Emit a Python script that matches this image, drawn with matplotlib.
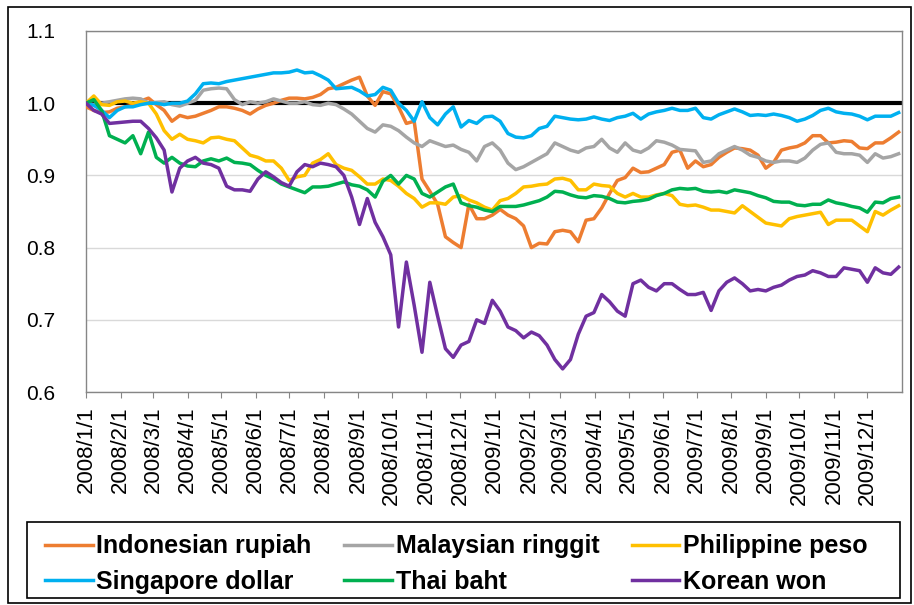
import pandas as pd
import matplotlib
matplotlib.use('Agg')
import matplotlib.pyplot as plt
from matplotlib.patches import Rectangle

plt.rcParams['font.family'] = ['Liberation Sans', 'DejaVu Sans']

# weekly observations, 2008/1/1 .. 2009/12/29 (index, 2008/1/1 = 1.0)
weeks = pd.date_range('2008-01-01', periods=105, freq='7D')

indonesian_rupiah = [
    0.995, 0.990, 0.987, 0.988, 0.993, 0.995, 0.997, 1.003, 1.007, 0.998,
    0.990, 0.975, 0.983, 0.980, 0.982, 0.986, 0.990, 0.995, 0.995, 0.993,
    0.990, 0.985, 0.992, 0.997, 1.000, 1.004, 1.007, 1.007, 1.006, 1.008,
    1.012, 1.020, 1.022, 1.027, 1.032, 1.036, 1.010, 0.997, 1.016, 1.013,
    0.995, 0.972, 0.975, 0.895, 0.878, 0.860, 0.815, 0.807, 0.800, 0.860,
    0.840, 0.840, 0.845, 0.853, 0.845, 0.840, 0.830, 0.800, 0.806, 0.805,
    0.822, 0.824, 0.822, 0.808, 0.838, 0.840, 0.855, 0.875, 0.893, 0.897,
    0.910, 0.904, 0.905, 0.910, 0.915, 0.932, 0.935, 0.910, 0.920, 0.912,
    0.915, 0.925, 0.932, 0.938, 0.937, 0.935, 0.928, 0.910, 0.918, 0.935,
    0.938, 0.940, 0.945, 0.955, 0.955, 0.945, 0.946, 0.948, 0.947, 0.938,
    0.937, 0.945, 0.945, 0.952, 0.960,
]
malaysian_ringgit = [
    1.000, 0.998, 1.000, 1.002, 1.004, 1.006, 1.007, 1.006, 1.000, 1.001,
    1.002, 0.998, 0.996, 1.000, 1.004, 1.018, 1.020, 1.021, 1.020, 1.005,
    0.998, 1.002, 1.000, 1.002, 1.006, 1.003, 1.000, 1.000, 1.002, 0.998,
    0.997, 1.000, 0.998, 0.992, 0.985, 0.975, 0.965, 0.960, 0.970, 0.968,
    0.962, 0.953, 0.945, 0.940, 0.948, 0.944, 0.940, 0.942, 0.936, 0.932,
    0.920, 0.940, 0.945, 0.935, 0.917, 0.908, 0.912, 0.918, 0.924, 0.930,
    0.945, 0.940, 0.935, 0.932, 0.938, 0.940, 0.950, 0.938, 0.932, 0.945,
    0.935, 0.932, 0.938, 0.948, 0.946, 0.942, 0.936, 0.935, 0.934, 0.918,
    0.920, 0.930, 0.935, 0.940, 0.935, 0.928, 0.925, 0.920, 0.918, 0.920,
    0.920, 0.918, 0.924, 0.935, 0.943, 0.945, 0.932, 0.930, 0.930, 0.928,
    0.918, 0.930, 0.924, 0.926, 0.930,
]
philippine_peso = [
    1.000, 1.010, 0.998, 0.997, 1.002, 1.003, 1.000, 1.002, 1.000, 0.985,
    0.962, 0.950, 0.957, 0.950, 0.948, 0.945, 0.952, 0.953, 0.950, 0.948,
    0.938, 0.928, 0.925, 0.920, 0.920, 0.910, 0.893, 0.898, 0.900, 0.917,
    0.922, 0.930, 0.915, 0.910, 0.907, 0.898, 0.888, 0.888, 0.895, 0.893,
    0.885, 0.875, 0.868, 0.856, 0.862, 0.862, 0.860, 0.870, 0.872, 0.866,
    0.862, 0.856, 0.852, 0.865, 0.868, 0.875, 0.884, 0.885, 0.887, 0.888,
    0.895, 0.896, 0.893, 0.880, 0.880, 0.888, 0.886, 0.885, 0.875, 0.870,
    0.875, 0.870, 0.870, 0.873, 0.875, 0.872, 0.860, 0.858, 0.859, 0.856,
    0.852, 0.852, 0.850, 0.848, 0.858, 0.850, 0.842, 0.834, 0.832, 0.830,
    0.840, 0.843, 0.845, 0.847, 0.849, 0.832, 0.838, 0.838, 0.838, 0.830,
    0.822, 0.850, 0.845, 0.852, 0.858,
]
singapore_dollar = [
    1.000, 0.997, 0.990, 0.980, 0.990, 0.995, 0.995, 0.998, 1.000, 1.000,
    0.998, 1.000, 1.000, 1.003, 1.013, 1.027, 1.028, 1.027, 1.030, 1.032,
    1.034, 1.036, 1.038, 1.040, 1.042, 1.042, 1.043, 1.046, 1.042, 1.043,
    1.038, 1.032, 1.020, 1.021, 1.022, 1.017, 1.010, 1.012, 1.022, 1.018,
    1.000, 0.990, 0.975, 1.002, 0.980, 0.970, 0.985, 0.995, 0.967, 0.976,
    0.972, 0.981, 0.982, 0.975, 0.958, 0.953, 0.952, 0.955, 0.965, 0.968,
    0.982, 0.980, 0.978, 0.977, 0.978, 0.981, 0.978, 0.976, 0.980, 0.982,
    0.986, 0.978, 0.985, 0.988, 0.990, 0.993, 0.990, 0.990, 0.993, 0.980,
    0.978, 0.984, 0.988, 0.992, 0.988, 0.983, 0.984, 0.983, 0.985, 0.983,
    0.980, 0.975, 0.978, 0.983, 0.990, 0.993, 0.988, 0.986, 0.985, 0.982,
    0.977, 0.982, 0.982, 0.982, 0.987,
]
thai_baht = [
    1.000, 1.005, 0.990, 0.955, 0.950, 0.945, 0.955, 0.930, 0.960, 0.925,
    0.917, 0.925, 0.917, 0.913, 0.912, 0.920, 0.923, 0.920, 0.924, 0.918,
    0.917, 0.915, 0.907, 0.900, 0.895, 0.888, 0.884, 0.880, 0.876, 0.884,
    0.884, 0.885, 0.888, 0.891, 0.887, 0.885, 0.880, 0.870, 0.892, 0.900,
    0.888, 0.900, 0.895, 0.875, 0.870, 0.877, 0.884, 0.888, 0.862, 0.858,
    0.856, 0.852, 0.850, 0.857, 0.857, 0.857, 0.859, 0.862, 0.865, 0.870,
    0.878, 0.877, 0.873, 0.870, 0.869, 0.872, 0.871, 0.868, 0.863, 0.862,
    0.864, 0.865, 0.867, 0.872, 0.875, 0.880, 0.882, 0.881, 0.882, 0.878,
    0.877, 0.878, 0.876, 0.880, 0.878, 0.876, 0.872, 0.869, 0.864, 0.863,
    0.863, 0.859, 0.858, 0.860, 0.860, 0.866, 0.862, 0.860, 0.857, 0.855,
    0.849, 0.863, 0.862, 0.868, 0.870,
]
korean_won = [
    1.000, 0.990, 0.985, 0.972, 0.973, 0.974, 0.975, 0.975, 0.965, 0.952,
    0.935, 0.877, 0.910, 0.920, 0.925, 0.917, 0.915, 0.910, 0.885, 0.880,
    0.880, 0.878, 0.895, 0.905, 0.898, 0.890, 0.885, 0.905, 0.915, 0.912,
    0.917, 0.915, 0.912, 0.900, 0.870, 0.832, 0.868, 0.835, 0.815, 0.790,
    0.690, 0.780, 0.720, 0.655, 0.752, 0.705, 0.660, 0.648, 0.665, 0.670,
    0.700, 0.695, 0.727, 0.712, 0.690, 0.685, 0.675, 0.683, 0.678, 0.665,
    0.645, 0.632, 0.645, 0.680, 0.705, 0.710, 0.735, 0.725, 0.712, 0.705,
    0.750, 0.755, 0.745, 0.740, 0.750, 0.750, 0.742, 0.735, 0.735, 0.738,
    0.713, 0.740, 0.752, 0.758, 0.750, 0.740, 0.742, 0.740, 0.745, 0.748,
    0.755, 0.760, 0.762, 0.768, 0.765, 0.760, 0.760, 0.772, 0.770, 0.768,
    0.752, 0.772, 0.765, 0.763, 0.773,
]

series = [
    ('Indonesian rupiah', indonesian_rupiah, '#ED7D31'),
    ('Malaysian ringgit', malaysian_ringgit, '#A5A5A5'),
    ('Philippine peso', philippine_peso, '#FFC000'),
    ('Singapore dollar', singapore_dollar, '#00B0F0'),
    ('Thai baht', thai_baht, '#00B050'),
    ('Korean won', korean_won, '#7030A0'),
]
baseline = 1.0
month_ticks = pd.date_range('2008-01-01', '2009-12-01', freq='MS')
tick_labels = [f'{d.year}/{d.month}/{d.day}' for d in month_ticks]

fig = plt.figure(figsize=(9.14, 6.05), dpi=100)
ax = fig.add_axes([86 / 914, 1 - 392 / 605, 816 / 914, 361 / 605])

ax.axhline(baseline, color='black', linewidth=3, zorder=2)
lines = []
for name, vals, col in series:
    ln, = ax.plot(weeks, vals, color=col, linewidth=2.5, label=name, zorder=3)
    lines.append(ln)

ax.set_xlim(pd.Timestamp('2008-01-01'), pd.Timestamp('2010-01-01'))
ax.set_ylim(0.6, 1.1)
ax.set_yticks([0.6, 0.7, 0.8, 0.9, 1.0, 1.1])
ax.set_yticklabels(['0.6', '0.7', '0.8', '0.9', '1.0', '1.1'])
ax.set_xticks(month_ticks)
ax.set_xticklabels(tick_labels, rotation=90)

ax.grid(axis='y', color='#D9D9D9', linewidth=1)
ax.set_axisbelow(True)
for s in ax.spines.values():
    s.set_color('#868686')
    s.set_linewidth(1)
ax.tick_params(axis='y', length=0, pad=22, labelsize=15)
ax.tick_params(axis='x', length=4.3, color='#868686', direction='out', pad=6, labelsize=16)

# legend is filled column by column, so interleave to get the row order
order = [0, 3, 1, 4, 2, 5]
fig.legend([lines[i] for i in order], [series[i][0] for i in order],
           loc='center left', bbox_to_anchor=(45 / 914, 1 - 564 / 605), ncol=3,
           frameon=False, prop={'weight': 'bold', 'size': 18},
           handlelength=1.9, handletextpad=0.16, columnspacing=1.3,
           labelspacing=0.46, borderpad=0, borderaxespad=0)

# legend frame and outer chart border
fig.patches.append(Rectangle((27 / 914, 1 - 598 / 605), 873 / 914, 76 / 605,
                             transform=fig.transFigure, fill=False,
                             edgecolor='black', linewidth=1.2))
fig.patches.append(Rectangle((8 / 914, 1 - 603 / 605), 903 / 914, 596 / 605,
                             transform=fig.transFigure, fill=False,
                             edgecolor='black', linewidth=1.2))

fig.savefig('out.png', dpi=100)
